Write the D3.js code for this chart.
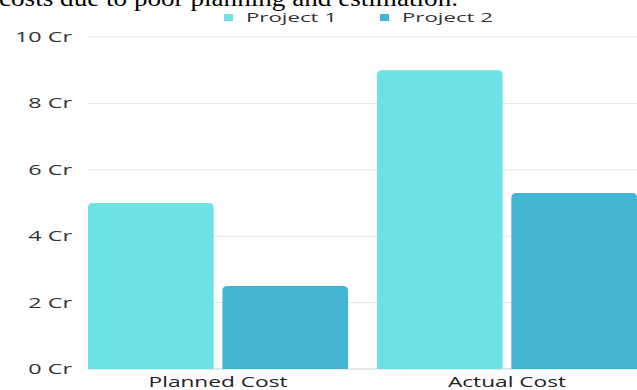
<!DOCTYPE html>
<html>
<head>
<meta charset="utf-8">
<script src="https://cdn.jsdelivr.net/npm/d3@7/dist/d3.min.js"></script>
<style>
  html, body { margin: 0; padding: 0; background: #ffffff; overflow: hidden; }
  svg { display: block; }
</style>
</head>
<body>
<script>
// Cost comparison data (values in crore)
const categories = ["Planned Cost", "Actual Cost"];
const seriesNames = ["Project 1", "Project 2"];
const project1 = [5, 9];
const project2 = [2.5, 5.3];
const yTicks = [0, 2, 4, 6, 8, 10];
const captionText = "costs due to poor planning and estimation.";

const W = 637, H = 390;
const colors = ["#6be3e6", "#42b5d4"];
const sansFont = "'Open Sans', 'DejaVu Sans', sans-serif";

const svg = d3.select("body").append("svg")
  .attr("width", W).attr("height", H);

// Widen a set of text nodes so the reference string reaches a given width
function widen(sel, refIndex, targetWidth) {
  const nodes = sel.nodes();
  const k = targetWidth / nodes[refIndex].getComputedTextLength();
  nodes.forEach(n => {
    const w = n.getComputedTextLength();
    n.setAttribute("textLength", (w * k).toFixed(1));
    n.setAttribute("lengthAdjust", "spacingAndGlyphs");
  });
}

// Caption line above the chart
const caption = svg.append("text")
  .attr("x", -1).attr("y", 6)
  .attr("font-family", "'Liberation Serif', 'Times New Roman', serif")
  .attr("font-size", 23)
  .attr("fill", "#000")
  .text(captionText);
widen(caption, 0, 459);

const x0 = d3.scaleBand().domain(categories).range([88, 637])
  .paddingInner(0.1).paddingOuter(0);
const x1 = d3.scaleBand().domain(seriesNames).range([0, x0.bandwidth()])
  .paddingInner(0.065);
const y = d3.scaleLinear().domain([0, 10]).range([369, 37]);

// Gridlines
svg.append("g")
  .selectAll("line").data(yTicks).join("line")
  .attr("x1", 88).attr("x2", W)
  .attr("y1", d => y(d)).attr("y2", d => y(d))
  .attr("stroke", d => d === 0 ? "#cfcfcf" : "#e3e3e3")
  .attr("stroke-width", 1);

// Y axis labels
const yAxis = d3.axisLeft(y).tickValues(yTicks)
  .tickFormat(d => d + " Cr").tickSize(0).tickPadding(0);
const yg = svg.append("g").attr("transform", "translate(72,0)").call(yAxis);
yg.select(".domain").remove();
yg.attr("font-size", null).attr("font-family", null);
const yLabels = yg.selectAll("text")
  .attr("font-family", sansFont).attr("font-size", 14)
  .attr("fill", "#333");
widen(yLabels, yTicks.indexOf(10), 57);

// Rounded-top bar path
function barPath(x, yTop, w, yBase, r) {
  r = Math.min(r, w / 2, yBase - yTop);
  return `M${x},${yBase}V${yTop + r}Q${x},${yTop} ${x + r},${yTop}` +
         `H${x + w - r}Q${x + w},${yTop} ${x + w},${yTop + r}V${yBase}Z`;
}

const rows = categories.map((c, i) => ({
  cat: c,
  vals: [{ s: seriesNames[0], v: project1[i] }, { s: seriesNames[1], v: project2[i] }]
}));

const groups = svg.append("g").selectAll("g").data(rows).join("g")
  .attr("transform", d => `translate(${x0(d.cat)},0)`);

groups.selectAll("path").data(d => d.vals).join("path")
  .attr("d", d => barPath(x1(d.s), y(d.v), x1.bandwidth(), y(0), 5))
  .attr("fill", (d, i) => colors[i]);

// X axis labels
const xAxis = d3.axisBottom(x0).tickSize(0).tickPadding(0);
const xg = svg.append("g").attr("transform", "translate(0,0)").call(xAxis);
xg.select(".domain").remove();
xg.attr("font-size", null).attr("font-family", null);
const xLabels = xg.selectAll("text")
  .attr("y", 386.5).attr("dy", null)
  .attr("font-family", sansFont).attr("font-size", 14.5)
  .attr("fill", "#222");
widen(xLabels, 0, 139);

// Legend
const legendX = [224, 380];
const lg = svg.append("g").selectAll("g").data(seriesNames).join("g")
  .attr("transform", (d, i) => `translate(${legendX[i]},0)`);
lg.append("rect").attr("x", 0).attr("y", 14).attr("width", 9).attr("height", 7)
  .attr("fill", (d, i) => colors[i]);
const legendText = lg.append("text").attr("x", 22).attr("y", 22)
  .attr("font-family", sansFont).attr("font-size", 13.5)
  .attr("fill", "#333")
  .text(d => d);
widen(legendText, 0, 91);
</script>
</body>
</html>
